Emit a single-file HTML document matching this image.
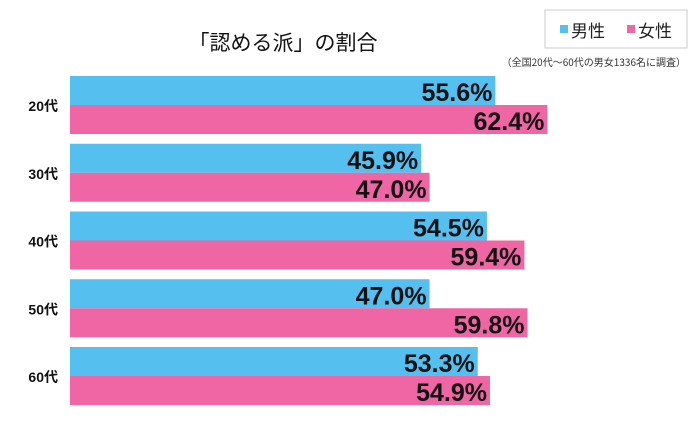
<!DOCTYPE html>
<html><head><meta charset="utf-8"><style>
body{margin:0;background:#fff;width:690px;height:438px;overflow:hidden;font-family:"Liberation Sans","Noto Sans CJK JP",sans-serif}
</style></head><body>
<svg width="690" height="438" xmlns="http://www.w3.org/2000/svg">
<text x="283" y="50" text-anchor="middle" font-size="21" fill="#111" font-family="Liberation Sans,Noto Sans CJK JP,sans-serif">「認める派」の割合</text>
<g>
<rect x="545" y="10" width="142" height="38" fill="#fff" stroke="#ccc"/>
<rect x="560" y="25" width="8" height="8" fill="#55bff0"/>
<text x="571" y="37" font-size="17" fill="#222" font-family="Noto Sans CJK JP,sans-serif">男性</text>
<rect x="627" y="25" width="8" height="8" fill="#f065a4"/>
<text x="638" y="37" font-size="17" fill="#222" font-family="Noto Sans CJK JP,sans-serif">女性</text>
</g>
<text x="686" y="66" text-anchor="end" font-size="10" fill="#333" font-family="Noto Sans CJK JP,sans-serif">（全国20代～60代の男女1336名に調査）</text>
<g id="bars"></g>
</svg>
<script>
const categories=["20代","30代","40代","50代","60代"];
const male=[55.6,45.9,54.5,47.0,53.3];
const female=[62.4,47.0,59.4,59.8,54.9];
const x0=70,pxPer=7.65,top0=76,period=67.75,bh=29;
const xs=v=>x0+v*pxPer;
const ns="http://www.w3.org/2000/svg";
const g=document.getElementById('bars');
function mk(t,a){const e=document.createElementNS(ns,t);for(const k in a)e.setAttribute(k,a[k]);g.appendChild(e);return e;}
categories.forEach((c,i)=>{
  const y=top0+i*period;
  const lab=mk('text',{x:58,y:y+bh+6,'text-anchor':'end','font-size':14,'font-weight':'bold',fill:'#111','font-family':'Liberation Sans,Noto Sans CJK JP,sans-serif'});
  lab.textContent=c;
  
  
  [[male[i],'#55bff0',y,'male'],[female[i],'#f065a4',y+bh,'female']].forEach(([v,col,yy,s])=>{
    const r=mk('rect',{x:x0,y:yy,width:xs(v)-x0,height:bh,fill:col});
    
    
    const t=mk('text',{x:xs(v)-3,y:yy+bh-4,'text-anchor':'end','font-size':25,'font-weight':'bold',fill:'#111'});
    t.textContent=v.toFixed(1)+'%';
    
    
  });
});
</script>
</body></html>
